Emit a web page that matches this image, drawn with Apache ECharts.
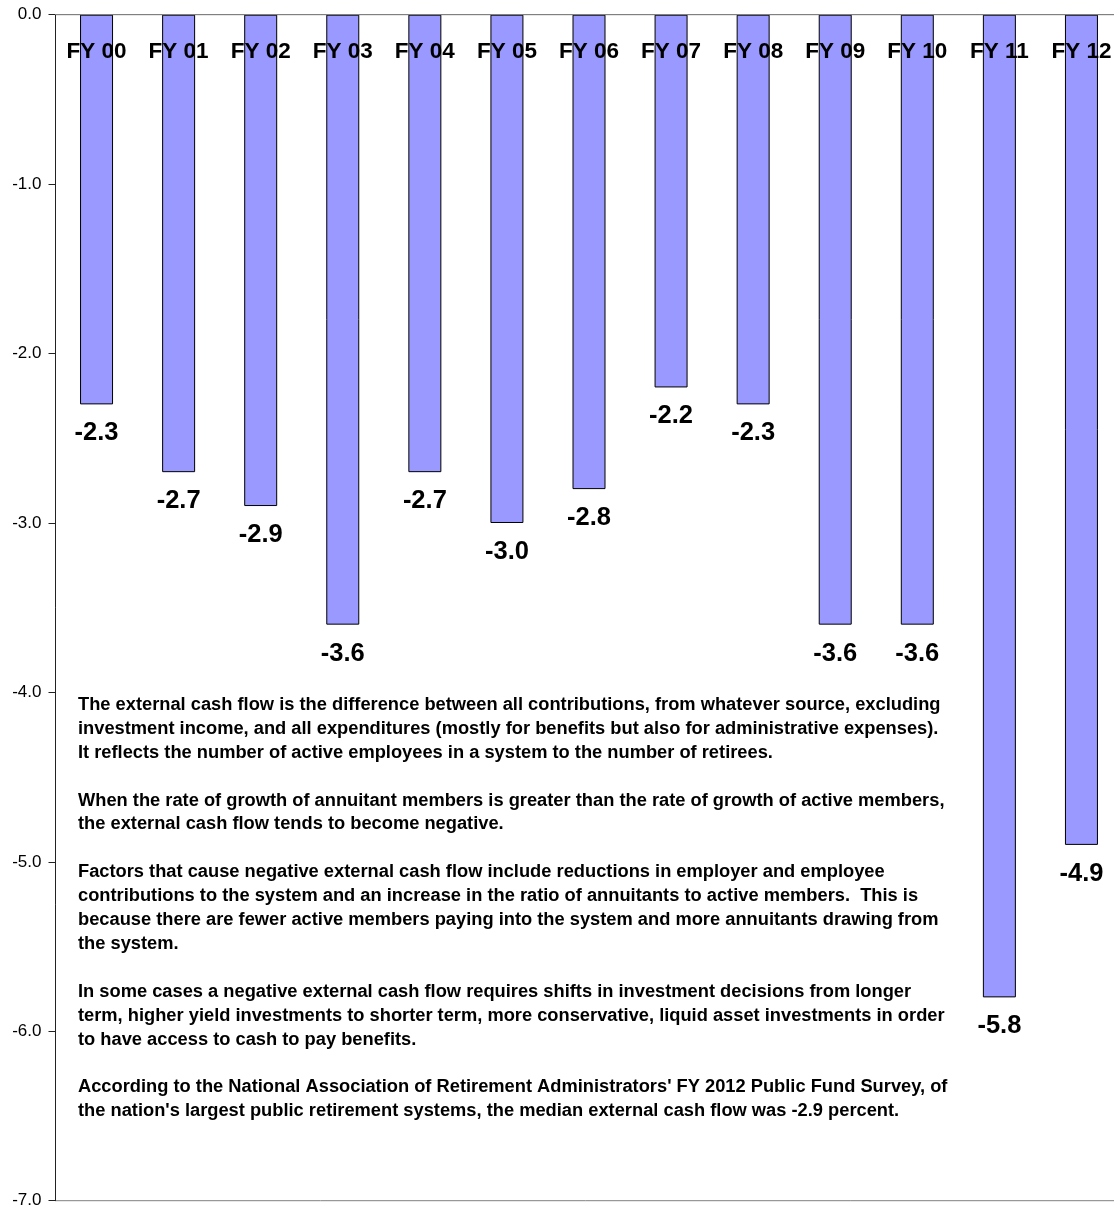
<!DOCTYPE html>
<html>
<head>
<meta charset="utf-8">
<script src="https://cdn.jsdelivr.net/npm/echarts@6/dist/echarts.min.js"></script>
<style>
  html, body { margin: 0; padding: 0; background: #ffffff; }
  #chart { width: 1114px; height: 1207px; }
</style>
</head>
<body>
<div id="chart"></div>
<script>
// External cash flow as a percent, by fiscal year
var categories = ['FY 00', 'FY 01', 'FY 02', 'FY 03', 'FY 04', 'FY 05', 'FY 06',
                  'FY 07', 'FY 08', 'FY 09', 'FY 10', 'FY 11', 'FY 12'];
var cashFlow = [-2.3, -2.7, -2.9, -3.6, -2.7, -3.0, -2.8, -2.2, -2.3, -3.6, -3.6, -5.8, -4.9];
var yMin = -7;
var yMax = 0;
var yStep = 1;

var notes = [
  'The external cash flow is the difference between all contributions, from whatever source, excluding',
  'investment income, and all expenditures (mostly for benefits but also for administrative expenses).',
  'It reflects the number of active employees in a system to the number of retirees.',
  '',
  'When the rate of growth of annuitant members is greater than the rate of growth of active members,',
  'the external cash flow tends to become negative.',
  '',
  'Factors that cause negative external cash flow include reductions in employer and employee',
  'contributions to the system and an increase in the ratio of annuitants to active members.  This is',
  'because there are fewer active members paying into the system and more annuitants drawing from',
  'the system.',
  '',
  'In some cases a negative external cash flow requires shifts in investment decisions from longer',
  'term, higher yield investments to shorter term, more conservative, liquid asset investments in order',
  'to have access to cash to pay benefits.',
  '',
  'According to the National Association of Retirement Administrators\' FY 2012 Public Fund Survey, of',
  'the nation\'s largest public retirement systems, the median external cash flow was -2.9 percent.'
];

var FONT = '"Liberation Sans", Arial, Helvetica, sans-serif';

var chart = echarts.init(document.getElementById('chart'), null, { renderer: 'canvas' });

chart.setOption({
  animation: false,
  backgroundColor: '#ffffff',
  grid: {
    left: 55.5,
    top: 14.7,
    width: 1067,
    bottom: 6.3,
    outerBoundsMode: 'none',
    containLabel: false,
    show: true,
    borderColor: '#808080',
    borderWidth: 1,
    backgroundColor: 'transparent'
  },
  xAxis: {
    type: 'category',
    data: categories,
    position: 'top',
    z: 5,
    axisLine: { show: true, onZero: false, lineStyle: { color: '#808080', width: 1 } },
    axisTick: { show: false },
    axisLabel: {
      inside: true,
      margin: 26,
      color: '#000000',
      fontFamily: FONT,
      fontWeight: 'bold',
      fontSize: 22.5
    },
    splitLine: { show: false }
  },
  yAxis: {
    type: 'value',
    min: yMin,
    max: yMax,
    interval: yStep,
    axisLine: { show: true, lineStyle: { color: '#222222', width: 1 } },
    axisTick: { show: true, length: 7, lineStyle: { color: '#222222' } },
    axisLabel: {
      margin: 14,
      color: '#000000',
      fontFamily: FONT,
      fontSize: 17,
      formatter: function (v) { return v.toFixed(1); }
    },
    splitLine: { show: false }
  },
  series: [{
    type: 'bar',
    data: cashFlow,
    barWidth: 33,
    itemStyle: { color: '#9999FF', borderColor: '#000000', borderWidth: 1 },
    label: {
      show: true,
      position: 'bottom',
      distance: 16,
      color: '#000000',
      fontFamily: FONT,
      fontWeight: 'bold',
      fontSize: 25.5,
      formatter: function (p) { return p.value.toFixed(1); }
    }
  }],
  graphic: [{
    type: 'text',
    left: 78,
    top: 693,
    style: {
      text: notes.join('\n'),
      fill: '#000000',
      font: 'bold 18.3px ' + FONT,
      lineHeight: 23.9
    }
  }]
});
</script>
</body>
</html>
